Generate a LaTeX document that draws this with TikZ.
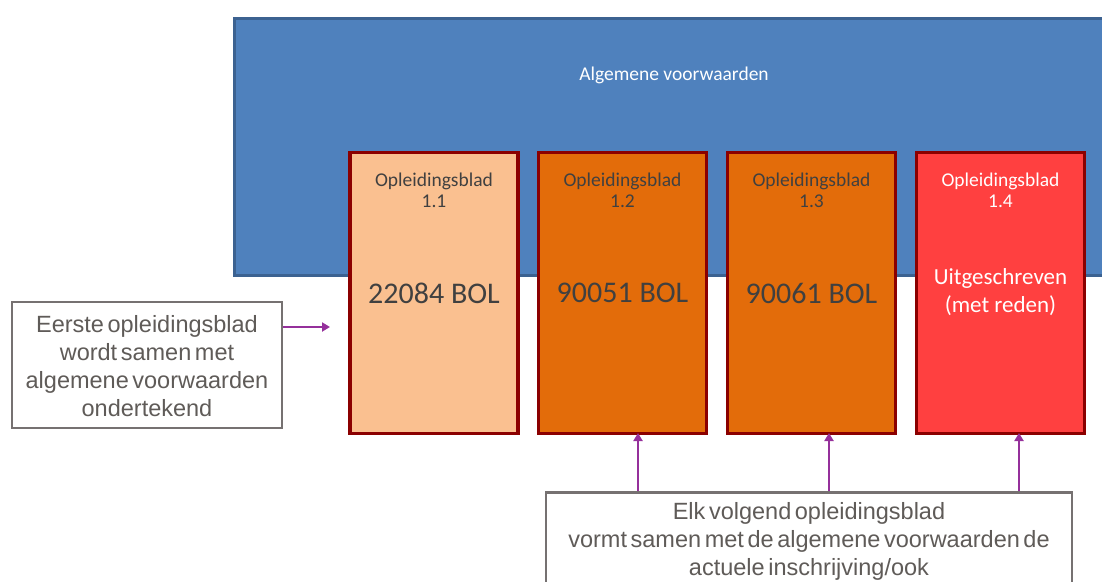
\documentclass[tikz,border=0pt]{standalone}
\usepackage{fontspec}
\setmainfont{Carlito}
\newfontfamily\callfont[WordSpace=0.55]{Liberation Sans}
\usetikzlibrary{arrows.meta,calc}
\definecolor{genblue}{HTML}{4F81BD}
\definecolor{genborder}{HTML}{3C6291}
\definecolor{peach}{HTML}{FAC090}
\definecolor{orangec}{HTML}{E36C0A}
\definecolor{redc}{HTML}{FF4040}
\definecolor{cardborder}{HTML}{8B0000}
\definecolor{cardtext}{HTML}{404040}
\definecolor{callborder}{HTML}{767171}
\definecolor{calltext}{HTML}{5F5B58}
\definecolor{arrowc}{HTML}{95309B}
\tikzset{
  general/.style={draw=genborder, line width=3pt, fill=genblue, inner sep=0pt},
  card/.style={draw=cardborder, line width=3.5pt, inner sep=0pt, minimum width=168pt, minimum height=281pt},
  cardtitle/.style={font=\fontsize{19.5}{21}\selectfont, align=center, inner sep=0pt},
  cardmain/.style={font=\fontsize{30}{34}\selectfont, align=center, inner sep=0pt},
  callout/.style={draw=callborder, line width=2.5pt, fill=white, inner sep=0pt},
  calltxt/.style={font=\callfont\fontsize{23.5}{28}\selectfont, text=calltext, align=center, inner sep=0pt},
  arr/.style={draw=arrowc, line width=2.5pt, -{Triangle[width=9pt,length=8pt]}}
}
\begin{document}
\begin{tikzpicture}[x=1pt,y=-1pt]
\useasboundingbox (0,0) rectangle (1102,581);
% general terms box
\node[general, minimum width=880pt, minimum height=257pt] (gen) at (674,146.5) {};
\node[text=white, font=\fontsize{19.5}{21}\selectfont, inner sep=0pt] (gentxt) at (674,75) {Algemene voorwaarden};
% cards
\node[card, fill=peach] (c1) at (434,293) {};
\node[card, fill=orangec] (c2) at (622.5,293) {};
\node[card, fill=orangec] (c3) at (811.5,293) {};
\node[card, fill=redc] (c4) at (1000.5,293) {};
\node[cardtitle, text=cardtext] (t1) at (434,190) {Opleidingsblad\\1.1};
\node[cardtitle, text=cardtext] (t2) at (622.5,190) {Opleidingsblad\\1.2};
\node[cardtitle, text=cardtext] (t3) at (811.5,190) {Opleidingsblad\\1.3};
\node[cardtitle, text=white] (t4) at (1000.5,190) {Opleidingsblad\\1.4};
\node[cardmain, text=cardtext] (m1) at (434,293) {22084 BOL};
\node[cardmain, text=cardtext] (m2) at (622.5,293) {90051 BOL};
\node[cardmain, text=cardtext] (m3) at (811.5,293) {90061 BOL};
\node[text=white, font=\fontsize{23}{28}\selectfont, align=center, inner sep=0pt] (m4) at (1000.5,292) {Uitgeschreven\\(met reden)};
% left callout
\node[callout, minimum width=270pt, minimum height=126pt] (left) at (147,365) {};
\node[calltxt] (lefttxt) at (147,366) {Eerste opleidingsblad\\wordt samen met\\algemene voorwaarden\\ondertekend};
% bottom callout
\node[callout, anchor=north, minimum width=526pt, minimum height=120pt] (bottom) at (809,491) {};
\node[calltxt] (bottomtxt) at (809,541) {Elk volgend opleidingsblad\\vormt samen met de algemene voorwaarden de\\actuele inschrijving/ook};
% arrows
\coordinate (a1) at (330,327);
\coordinate (a2) at (638,433);
\coordinate (a3) at (829,433);
\coordinate (a4) at (1019,433);
\draw[arr] (left.east |- a1) -- (a1);
\draw[arr] (bottom.north -| a2) -- (a2);
\draw[arr] (bottom.north -| a3) -- (a3);
\draw[arr] (bottom.north -| a4) -- (a4);
\end{tikzpicture}
\end{document}
